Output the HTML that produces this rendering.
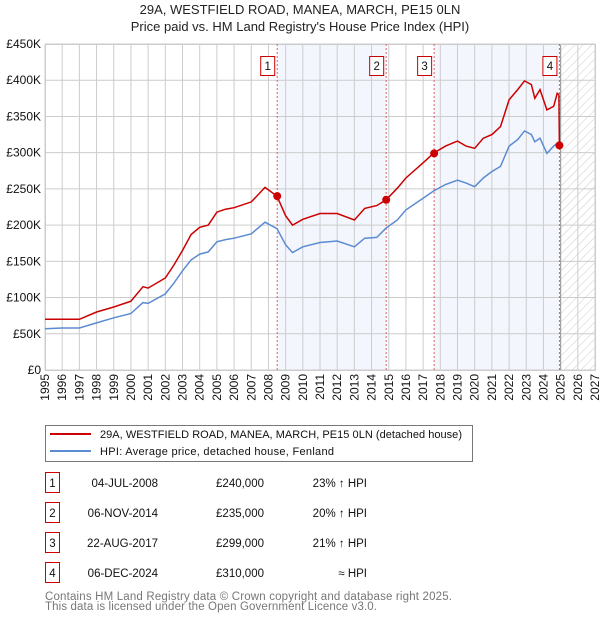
<!DOCTYPE html>
<html><head><meta charset="utf-8"><style>
body{margin:0;background:#fff;font-family:"Liberation Sans","DejaVu Sans",sans-serif;}
svg{display:block}
</style></head><body>
<svg id="chart" width="600" height="620" xmlns="http://www.w3.org/2000/svg">
<defs><pattern id="hatch" width="6" height="6" patternUnits="userSpaceOnUse" patternTransform="rotate(45)"><line x1="0" y1="0" x2="0" y2="6" stroke="#ccc" stroke-width="1"/></pattern></defs>
<text x="300" y="14" text-anchor="middle" font-size="13" fill="#222">29A, WESTFIELD ROAD, MANEA, MARCH, PE15 0LN</text>
<text x="300" y="31" text-anchor="middle" font-size="13" fill="#222">Price paid vs. HM Land Registry's House Price Index (HPI)</text>
<g id="plot"></g>
<g>
<rect x="45.5" y="425.5" width="427" height="36" fill="#fff" stroke="#777"/>
<line x1="50" y1="434" x2="91" y2="434" stroke="#cc0000" stroke-width="2"/>
<text x="100" y="438" font-size="11" fill="#111" textLength="362">29A, WESTFIELD ROAD, MANEA, MARCH, PE15 0LN (detached house)</text>
<line x1="50" y1="451" x2="91" y2="451" stroke="#5b8bd0" stroke-width="2"/>
<text x="100" y="455" font-size="11" fill="#111" textLength="234">HPI: Average price, detached house, Fenland</text>
</g>
<g id="table" font-size="11.5" fill="#111"></g>
<text x="45" y="600" font-size="11.5" fill="#777" textLength="407">Contains HM Land Registry data © Crown copyright and database right 2025.</text>
<text x="45" y="610" font-size="11.5" fill="#777" textLength="332">This data is licensed under the Open Government Licence v3.0.</text>
</svg>
<script>
const years=[1995,1996,1997,1998,1999,2000,2000.7,2001,2002,2002.5,2003,2003.5,2004,2004.5,2005,2005.5,2006,2007,2007.8,2008.5,2009,2009.4,2010,2011,2012,2013,2013.6,2014.3,2014.85,2015.5,2016,2017,2017.6,2018.3,2019,2019.5,2020,2020.5,2021,2021.5,2022,2022.5,2022.9,2023.3,2023.5,2023.8,2024.2,2024.6,2024.8,2024.9];
const hpi=[57,58,58,65,72,78,93,92,105,120,137,152,160,163,177,180,182,188,204,195,173,162,170,176,178,170,182,183,196,207,221,237,247,256,262,258,253,265,274,281,309,318,330,325,315,320,299,309,313,313];
const price=[70,70,70,80,87,95,115,113,127,145,165,187,197,200,218,222,224,232,252,240,213,200,208,216,216,207,223,227,235,251,265,286,299,309,316,309,306,320,325,336,373,387,399,394,375,387,359,364,382,380];
const saleYears=[2008.51,2014.85,2017.64,2024.93];
const salePrices=[240,235,299,310];
const saleLabels=["1","2","3","4"];
const saleDates=["04-JUL-2008","06-NOV-2014","22-AUG-2017","06-DEC-2024"];
const salePaid=["£240,000","£235,000","£299,000","£310,000"];
const saleHpi=["23% ↑ HPI","20% ↑ HPI","21% ↑ HPI","≈ HPI"];
const yTicks=[0,50,100,150,200,250,300,350,400,450];
const yTickLabels=["£0","£50K","£100K","£150K","£200K","£250K","£300K","£350K","£400K","£450K"];
const xTicks=[1995,1996,1997,1998,1999,2000,2001,2002,2003,2004,2005,2006,2007,2008,2009,2010,2011,2012,2013,2014,2015,2016,2017,2018,2019,2020,2021,2022,2023,2024,2025,2026,2027];

const NS="http://www.w3.org/2000/svg";
const L=45,R=595,T=44,B=370;
const x=v=>L+(v-1995)*(R-L)/32;
const y=v=>B-v*(B-T)/450;
const plot=document.getElementById('plot');
function mk(tag,attrs,parent){const e=document.createElementNS(NS,tag);for(const k in attrs)e.setAttribute(k,attrs[k]);(parent||plot).appendChild(e);return e;}

let e;
e=mk('rect',{x:x(saleYears[0]),y:T,width:x(saleYears[1])-x(saleYears[0]),height:B-T,fill:'#eef2fc',opacity:0.7});


e=mk('rect',{x:x(saleYears[2]),y:T,width:x(saleYears[3])-x(saleYears[2]),height:B-T,fill:'#eef2fc',opacity:0.7});


e=mk('rect',{x:x(2025),y:T,width:x(2027)-x(2025),height:B-T,fill:'url(#hatch)'});



yTicks.forEach((v,i)=>{
 e=mk('line',{x1:L,x2:R,y1:y(v),y2:y(v),stroke:'#ccc','stroke-width':1});
 
 
 e=mk('text',{x:L-4,y:y(v)+4,'text-anchor':'end','font-size':12,fill:'#111'});
 e.textContent=yTickLabels[i];
 
 
});
xTicks.forEach(v=>{
 e=mk('line',{x1:x(v),x2:x(v),y1:T,y2:B,stroke:'#ccc','stroke-width':1});
 
 
 e=mk('text',{x:0,y:0,'text-anchor':'end','font-size':12,fill:'#111',transform:`translate(${x(v)+4},374) rotate(-90)`});
 e.textContent=v;
 
 
});
e=mk('line',{x1:x(2025),x2:x(2025),y1:T,y2:B,stroke:'#999','stroke-width':1});


e=mk('rect',{x:L+0.5,y:T+0.5,width:R-L,height:B-T,fill:'none',stroke:'#ccc'});



saleYears.forEach((v,i)=>{
 e=mk('line',{x1:x(v),x2:x(v),y1:T,y2:B,stroke:'#e06060','stroke-width':1,'stroke-dasharray':'2,2'});
 
 
});

let dh=years.map((v,i)=>(i?'L':'M')+x(v).toFixed(1)+','+y(hpi[i]).toFixed(1)).join('');
e=mk('path',{d:dh,fill:'none',stroke:'#5b8bd0','stroke-width':1.5});


let dp=years.map((v,i)=>(i?'L':'M')+x(v).toFixed(1)+','+y(price[i]).toFixed(1)).join('');
dp+='L'+x(saleYears[3]).toFixed(1)+','+y(salePrices[3]).toFixed(1)+'L'+x(2025.1).toFixed(1)+','+y(salePrices[3]).toFixed(1);
e=mk('path',{d:dp,fill:'none',stroke:'#cc0000','stroke-width':1.5});



saleYears.forEach((v,i)=>{
 e=mk('circle',{cx:x(v),cy:y(salePrices[i]),r:4,fill:'#cc0000'});
 
 
 e=mk('rect',{x:x(v)-16.5,y:56.5,width:14,height:19,fill:'#fff',stroke:'#cc0000'});
 
 
 e=mk('text',{x:x(v)-9.5,y:70,'text-anchor':'middle','font-size':11.5,fill:'#111'});
 e.textContent=saleLabels[i];
 
 
});

const tbl=document.getElementById('table');
saleLabels.forEach((lab,i)=>{
 const cy=483+i*30;
 e=mk('rect',{x:45.5,y:cy-10.5,width:14,height:20,fill:'#fff',stroke:'#cc0000'},tbl);
 
 
 e=mk('text',{x:52.5,y:cy+4,'text-anchor':'middle'},tbl);e.textContent=lab;
 
 
 e=mk('text',{x:158,y:cy+4,'text-anchor':'end'},tbl);e.textContent=saleDates[i];
 
 
 e=mk('text',{x:264,y:cy+4,'text-anchor':'end'},tbl);e.textContent=salePaid[i];
 
 
 e=mk('text',{x:367,y:cy+4,'text-anchor':'end'},tbl);e.textContent=saleHpi[i];
 
 
});
</script>
</body></html>
